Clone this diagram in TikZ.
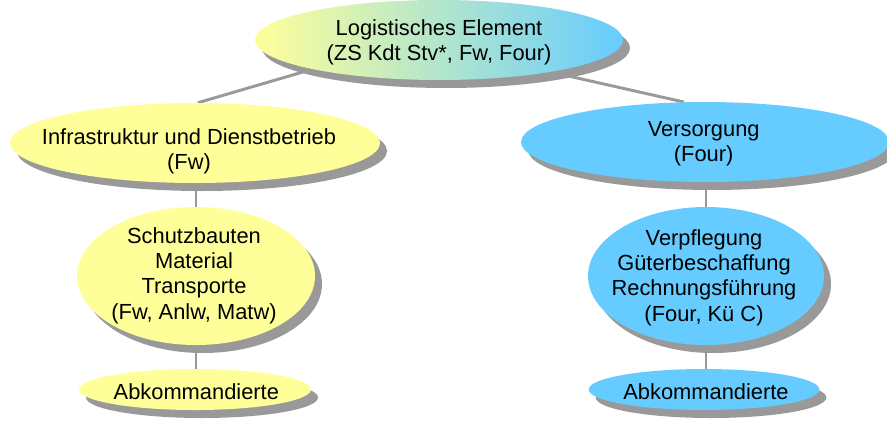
\documentclass[tikz,border=0pt]{standalone}
\usepackage{fontspec}
\setmainfont{Liberation Sans}
\usetikzlibrary{shapes.geometric,shadows,backgrounds}
\definecolor{gelb}{HTML}{FFFF99}
\definecolor{hellblau}{HTML}{66CCFF}
\definecolor{schatten}{HTML}{999999}
% #1 Verschiebung x, #2 Verschiebung y, #3 Zeilen
\newcommand{\zeilen}[3]{\makebox[0pt]{\hspace*{#1}\smash{\raisebox{#2}{\begin{tabular}{@{}c@{}}#3\end{tabular}}}\hspace*{-#1}}}
\tikzset{
	blob/.style={ellipse, inner sep=0pt, font=\fontsize{16.4}{19}\selectfont,
		drop shadow={shadow xshift=5.25pt, shadow yshift=-6pt, fill=schatten, opacity=1}},
	gelbblob/.style={blob, fill=gelb},
	blaublob/.style={blob, fill=hellblau},
	verbindung/.style={draw=schatten, line width=2.2pt},
}
\begin{document}
\begin{tikzpicture}[x=0.75pt, y=-0.75pt]
		\useasboundingbox (0,0) rectangle (887,421);
		\node[blob, left color=gelb, right color=hellblau, minimum width=276pt, minimum height=60pt] (element) at (439,40) {\zeilen{0pt}{-6.75pt}{Logistisches Element\\(ZS Kdt Stv*, Fw, Four)}};
		
		\node[gelbblob, minimum width=277.5pt, minimum height=60pt] (infra) at (195,143) {\zeilen{-4.5pt}{-11.25pt}{Infrastruktur und Dienstbetrieb\\(Fw)}};
		\node[blaublob, minimum width=276pt, minimum height=60pt] (vers) at (705,142) {\zeilen{-1pt}{-6pt}{Versorgung\\(Four)}};
		
		\node[gelbblob, minimum width=178.5pt, minimum height=103.5pt] (schutz) at (196,276) {\zeilen{-1.5pt}{-4.5pt}{Schutzbauten\\Material\\Transporte\\(Fw, Anlw, Matw)}};
		\node[blaublob, minimum width=177pt, minimum height=103.5pt] (verpf) at (706,276) {\zeilen{-1.5pt}{-6pt}{Verpflegung\\Güterbeschaffung\\Rechnungsführung\\(Four, Kü C)}};
		
		\node[gelbblob, minimum width=174pt, minimum height=30.75pt] (abkfw) at (195,389.5) {\zeilen{1pt}{-8.25pt}{Abkommandierte}};
		\node[blaublob, minimum width=173pt, minimum height=30.75pt] (abkfour) at (704,389.5) {\zeilen{1.5pt}{-8.25pt}{Abkommandierte}};
		
		\begin{scope}[on background layer]
			\draw[verbindung] (infra.86) -- (element.193);
			\draw[verbindung] (vers.118) -- (element.344);
			\draw[verbindung] (schutz) -- (schutz |- infra);
			\draw[verbindung] (schutz) -- (schutz |- abkfw);
			\draw[verbindung] (verpf) -- (verpf |- vers);
			\draw[verbindung] (verpf) -- (verpf |- abkfour);
		\end{scope}
	\end{tikzpicture}
\end{document}
